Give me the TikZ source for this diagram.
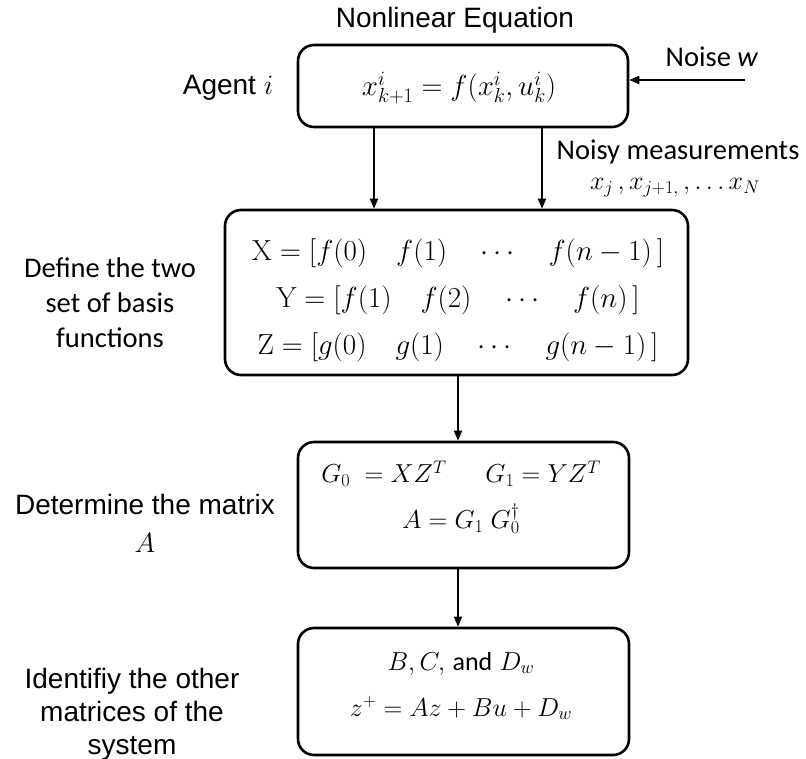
\RequirePackage{fix-cm}
\documentclass[tikz,border=0pt]{standalone}
\usepackage[no-math]{fontspec}
\setmainfont{Liberation Sans}
\newfontfamily\calib{Carlito}
\usetikzlibrary{arrows.meta}
\begin{document}
\begin{tikzpicture}[x=1pt,y=-1pt,
  box/.style={draw, line width=2.6pt, rounded corners=16pt, inner sep=0pt},
  arr/.style={line width=1.8pt, -{Triangle[length=10pt,width=8pt]}},
  lab/.style={inner sep=0pt, align=center},
  arialtxt/.style={font=\fontsize{28}{35}\selectfont},
  calibtxt/.style={font=\calib\fontsize{28.5}{35}\selectfont},
  mathbig/.style={font=\fontsize{29}{47}\selectfont},
  mathtxt/.style={font=\fontsize{26}{46}\selectfont}
  ]
\useasboundingbox (0,0) rectangle (806,759);
% boxes
\node[box, minimum width=330pt, minimum height=82pt] (b1) at (463,86) {};
\node[box, minimum width=463pt, minimum height=165pt] (b2) at (456.5,292.5) {};
\node[box, minimum width=331pt, minimum height=126pt] (b3) at (463.5,505) {};
\node[box, minimum width=331pt, minimum height=127pt] (b4) at (463.5,691.5) {};
% box contents
\node[lab, mathbig] (t1) at (459,88) {$x^i_{k+1} = f(x^i_k, u^i_k)$};
\node[lab, mathbig] (t2) at (458,300) {$\mathrm{X} = [f(0)\quad f(1)\quad \cdots\quad f(n-1)\,]$\\
  $\mathrm{Y} = [f(1)\quad f(2)\quad \cdots\quad f(n)\,]$\\
  $\mathrm{Z} = [g(0)\quad g(1)\quad \cdots\quad g(n-1)\,]$};
\node[lab, mathtxt] (t3) at (461,497) {$G_0\ = XZ^T \quad\enspace G_1 = YZ^T$\\
  $A = G_1\ G_0^\dagger$};
\node[lab, mathtxt] (t4) at (461,686) {$B, C,$ {\calib and} $D_w$\\
  $z^+ = Az + Bu + D_w$};
% side labels
\node[lab, arialtxt] (nle) at (455,20) {Nonlinear Equation};
\node[lab, arialtxt] (agent) at (228,88) {Agent $i$};
\node[lab, calibtxt] (noise) at (712,57) {Noise \textit{w}};
\node[lab, calibtxt] (noisy) at (678,152) {Noisy measurements};
\node[lab, font=\fontsize{26}{30}\selectfont] (xs) at (675,188) {$x_j\,, x_{j+1,}\,, \dots x_N$};
\node[lab, calibtxt] (def) at (110,303) {Define the two\\set of basis\\functions};
\node[lab, font=\fontsize{28}{38}\selectfont] (det) at (145,523) {Determine the matrix\\$A$};
\node[lab, font=\fontsize{28}{33}\selectfont] (iden) at (132,714) {Identifiy the other\\matrices of the\\system};
% connectors
\coordinate (a1) at (374,0);
\coordinate (a2) at (542,0);
\coordinate (a3) at (458,0);
\coordinate (nw) at (745,80);
\draw[arr] (b1.south -| a1) -- (b2.north -| a1);
\draw[arr] (b1.south -| a2) -- (b2.north -| a2);
\draw[arr] (b2.south -| a3) -- (b3.north -| a3);
\draw[arr] (b3.south -| a3) -- (b4.north -| a3);
\draw[arr] (nw) -- (nw -| b1.east);
\end{tikzpicture}
\end{document}
